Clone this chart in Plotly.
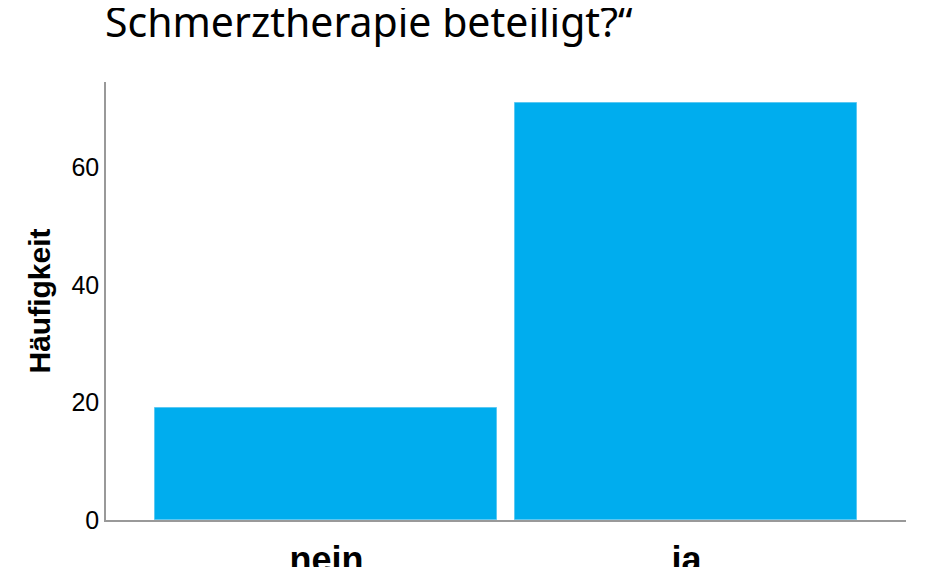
import plotly.graph_objects as go

categories = ["nein", "ja"]
counts = [19, 71]
y_ticks = [0, 20, 40, 60]

title_text = "Schmerztherapie beteiligt?“"


def make_plot():
    fig = go.Figure()
    fig.add_trace(go.Bar(
        x=[0, 1], y=counts, width=0.95,
        marker=dict(color="#00ADEE", line=dict(color="#5CC8F2", width=1)),
        showlegend=False,
    ))
    # page has an 8px body margin, so offsets are shifted back by 8
    fig.update_layout(
        width=925, height=567,
        margin=dict(l=98, r=27, t=74, b=55),
        paper_bgcolor="white", plot_bgcolor="white",
        title=dict(text=title_text, x=97 / 925, xanchor="left", xref="container",
                   y=0.975, yanchor="middle",
                   font=dict(family="Noto Sans", size=41, color="black")),
        bargap=0,
    )
    fig.update_xaxes(
        range=[-0.6125, 1.61], tickvals=[0, 1], ticktext=categories,
        showline=True, linecolor="#999999", linewidth=1.5, showgrid=False,
        ticks="", zeroline=False, automargin=False, ticklabelstandoff=7,
        tickfont=dict(family="Liberation Sans", size=36, color="black", weight="bold"),
    )
    fig.update_yaxes(
        range=[0, 74.5], tickvals=y_ticks, showline=True, linecolor="#999999",
        linewidth=1.5, showgrid=False, ticks="", zeroline=False, automargin=False,
        tickfont=dict(family="Liberation Sans", size=25, color="black"),
        title=dict(text="Häufigkeit", standoff=12,
                   font=dict(family="Liberation Sans", size=30, color="black", weight="bold")),
    )
    fig.write_html("out.html")


if __name__ == '__main__':
    make_plot()
